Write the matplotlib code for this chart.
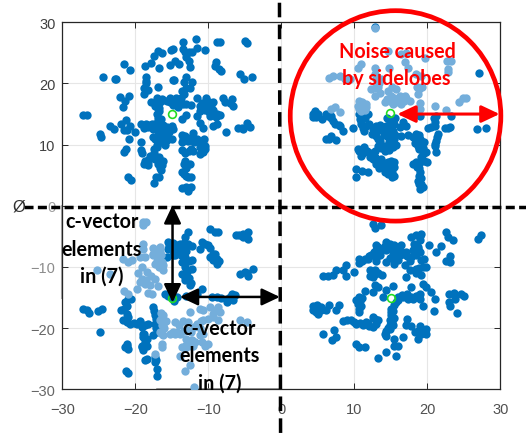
import matplotlib
matplotlib.use("Agg")
import matplotlib.pyplot as plt
from matplotlib.patches import Ellipse

# Dark series (x, y) per quadrant
tl_x = [-11.7,-13.5,-11.55,-10.45,-8.85,-8.4,-5,-4.65,-16.95,-16.4,-17.5,-15.1,-14.8,-13.4,-13.2,-12.7,-12.3,-13,-12.7,-12.5,-14.5,-14,-15.2,-16.7,-17.9,-18.7,-21.55,-20.7,-24.4,-22.8,-22.6,-8.9,-9.1,-8.6,-8.3,-5.65,-5.15,-4,-18.6,-18.6,-18.6,-14.9,-14.7,-13,-12.3,-13.3,-16.85,-18.85,-18.3,-18.8,-12.5,-13.05,-13.6,-13.3,-22.05,-20.8,-21.4,-21.7,-17.85,-17.3,-17.05,-16.6,-16.15,-15.7,-15.25,-14.8,-14.45,-13.9,-13.45,-13,-12.4,-14.65,-17,-17.05,-16.85,-13.65,-13.05,-11.5,-10.3,-11.15,-10.7,-11.15,-9.3,-10.2,-9.8,-8.85,-8.4,-11.6,-11.2,-10.7,-9.3,-8.8,-7.6,-7.95,-6.8,-7.7,-6.6,-7,-5.9,-5.2,-4.75,-4.3,-5.45,-27.1,-26.65,-23.4,-22.9,-22,-21.3,-21.55,-20.75,-21.2,-20,-24.85,-24.75,-19.25,-18.6,-18.8,-18,-17.3,-16.6,-16.15,-17.05,-16.15,-15,-14.9,-16.6,-17.3,-16.15,-15,-15.7,-16.6,-17.05,-17.5,-17.95,-17.3,-19.2,-19.25,-19.1,-20.8,-21.3,-21.55,-18.7,-18.2,-18.8,-16.85,-16.15,-16.6,-16.5,-17.15,-16.7,-17.45,-21,-20.65,-13.65,-13.2,-12.15,-13.65,-12.75,-11.6,-10.6,-10.45,-11.15,-10.7,-13.65,-13.2,-12.05,-11.15,-13.2,-13.05,-12.5,-13.65,-13,-12.4,-13.65,-12.75,-12.4,
        -18.2,-17.6,-17.7,-17,-16.4,-15.7,-15.4,-16.9,-17.6,-16.3,-15.6,-15.9,-16.9,-17,-17.4,-17.7,-18.3,-18.2,-16.9,-16.4,-16.8,-17.3,-16.7,-16.4,-15.3,-14.9,-14.2,-13.7,-14.2,-16.8,-16.9,-16.5,-13.4,-13.1,-12.5,-12.1,-11.9,-11.2,-10.7,-10.5,-10.9,-12.7,-12.4,-13,-13.3,-13.3,-12.8,-13,-10.9,-10.5,-9.9,-9.4,-8.9,-9.6,-9.9]
tl_y = [27.2,26.7,25.8,25.4,26.8,26.8,27,26.65,25.3,25,24.5,25.4,25.7,25.7,25.1,25.1,25.2,24.4,23.6,22.7,23.7,23.2,23,22.6,23.3,22.8,23.2,22.2,21,20.8,20.7,23.5,22.9,22.3,22.1,21.5,20.7,21.1,21.1,20.4,20,20.6,20.5,21,20.3,20.3,19.45,19.2,19,18.3,19.2,19.2,18.8,18.3,17.8,17.9,17.2,16.2,17.05,16.8,17.55,16.9,17.25,17.15,17.55,17.15,17.7,17.15,16.6,16.6,16.55,16.75,16.1,15,13.9,14.15,14.9,17.7,17.65,16.35,15.8,15.5,16.9,16.45,14.7,15,14.8,14.7,13.5,12.8,13.1,13.35,12.1,17.65,17.5,16.9,16.25,16.8,12.65,12.5,13.5,12.85,12.8,14.9,14.8,13.1,12.55,13.45,14,12.4,13.1,12.4,12,11.7,11.2,13.45,13.35,12.8,13.2,13.35,13.6,13.2,12.55,12.25,13.1,12.55,12,11,11,10.9,11.2,10.35,9.55,8.7,8.2,7.65,10.35,9.15,8.6,10.9,9.25,8.8,7.25,6.7,6.8,7.45,7.25,6.25,5.9,4.75,4.75,3.7,4.75,4.25,11.55,11.45,11.9,10.45,10.6,10.9,10.9,9.8,9.55,8.75,9.15,8.7,9,8.55,7.35,6.55,6.8,5.45,4.9,4.65,2.85,2.45,3,
        12.9,12.6,13.4,13,12.7,12.9,12,11.6,11.2,11.5,10.7,10,10.5,9.9,9.3,7.9,7.5,7.1,6.9,6.7,8,16.3,16,17.5,17,16.5,17.4,17.7,16.2,15.5,14.4,14.2,11,10.7,11.1,10.8,10.4,10.6,10.3,9.3,8.9,9,9.3,6.1,6.9,5.2,4.7,3,16.8,15.7,15.4,15.7,14.5,16.4,16.9]

tr_x = [27.1,26.8,28,4.55,4.35,4.8,4.35,5.6,6.15,6.85,7.1,8.1,8.45,7.9,9.8,6.15,6.85,7.45,10.7,11.2,11.85,10.95,11.2,13,13.5,12.55,14.85,15.5,14.6,15.3,17.1,16.65,13,13.5,14.6,15.5,14.85,15.3,14.15,13.25,10.7,11.2,10.5,12.3,12.55,13,13.7,14.6,15.5,14.15,15.05,14.6,15.5,15.2,10.3,11,10.3,11.85,16.45,17.35,18.5,18.95,19.6,18.7,19.85,19.4,18.05,18.95,19.95,18.95,18.7,19.15,18.95,19.4,21.2,21,20.1,21.45,21.2,21,21.15,22.4,23.05,23.3,18.95,12.9,
        10.8,11.4,10.9,11.6,12,11.3,12.4,13.1,13.6,13.3,14,14.2,14.3,15,15.2,14.5,15.6,14.9,15.6,15.2,14.7,14,14.7,15.7,13.6,12.8,11.8,11.3,10.9,12.2,13,13.3,14.1,15,14.9,15.2,14.2,12.9,18.1,18.8,19.2,18.3,18.9,19.4,19.2,19.5,18.9,18.6,18.8,18.8,19.1,18.5,21.1,20.9,20.5,21.3,21.1,22.8,5,4.9,6.4,6.8,7.3,6.5,13.4,14,15.4,16.3]
tr_y = [21.7,12.55,12.8,15.5,15,14.45,14.45,14.2,15,14.7,13.9,13.1,12.25,13.2,12.65,11,11.35,10.8,15,14.7,15,13.9,12.8,13.1,13.2,12.55,13.65,13.35,12.55,12.25,13.1,13.65,11.45,10.6,11.2,10.9,9.8,9.55,9,9.8,9,8.7,9.25,8.7,7.65,6.8,7.65,7.1,7.1,6.25,6,5.2,4.9,4.65,6,5.7,4.65,5.45,11.35,11.55,11.7,10.9,10.35,9.8,8.85,8.45,6.8,7.1,7.1,5.45,4.1,3.55,2.75,3,14.7,13.65,12.8,11.7,10.6,9.8,8.85,12.8,12.9,14.7,14.7,29.2,
        14.2,14.3,13.3,13,13.3,12.2,11.7,12.2,12.6,11,11.5,12.2,13,13,14.1,14.3,14.4,11.7,11.6,10.4,10.5,9.8,9.2,9.9,9.4,8.9,9,9.6,8.2,8,7.3,7.1,7,7.3,6.5,5.6,5.6,7.9,11.2,11.5,10.6,10.3,9.3,9.4,8,7.3,6.2,6.4,4.9,3.5,4.5,7.1,13.1,14.3,12.9,11.2,10.1,12.8,15,14.8,14.6,14.3,13.3,10.9,6.2,6.7,6.4,12.9]

bl_x = [-12.75,-9.8,-9.1,-8.65,-6.2,-5.2,-4.5,-4.5,-5.2,-13.2,-10.9,-11.15,-10,-9.3,-9.8,-8.85,-8.85,-3.85,-5,-5.65,-4.5,-15.5,-15.5,-15.7,-14.35,-13.4,-12.75,-14.55,-12.3,-13.65,-12.3,-13.65,-13.2,-12.5,-10.9,-15.9,-15,-14.35,-11.6,-8.85,-7.5,-6.8,-6.35,-7.5,-27.1,-26.55,-26.3,-25.05,-24.6,-24.85,-21,-21.2,-21.9,-21.2,-21.65,-20.75,-19.7,-19.15,-18.2,-17.55,-17.3,-17.3,-17.05,-17.55,-19,-18.45,-19.15,-18.45,-19,-21.2,-21,-21.4,-18.7,-18.35,-17.3,-17.3,-17.05,-17.05,-21.3,-20.95,
        -15.4,-14.9,-14.9,-14.2,-13.9,-13.3,-13,-12.3,-14.9,-13.8,-13.2,-12.7,-13.2,-12.9,-13.2,-12.6,-12.4,-15.5,-15.3,-14.7,-13,-9.5,-8.2,-7,-6.6,-9.3,-9.1,-8.6,-9.7,-10.5,-4.9,-5.8,-4.7,-21.4,-20.6,-21.5,-21,-21.2,-20.2,-19.3,-18.7,-17.4,-17.2,-17.1,-16.9,-18.9,-18.7,-19.1,-21.2,-18.8,-17.1]
bl_y = [-4.25,-3.85,-4.25,-4.25,-4.7,-4.55,-4.25,-5.35,-5.1,-5.1,-5.9,-7,-6.45,-7.8,-8.35,-8.65,-9.45,-10.4,-10.8,-11.1,-11.4,-5.9,-7,-8.35,-6.45,-7,-6.2,-8.1,-8.9,-9.2,-10.3,-11.1,-12.15,-13,-13.55,-14.35,-14.9,-14.9,-14.35,-14.9,-15.2,-14.35,-14.65,-15.75,-16.85,-17.1,-17.5,-17.25,-16.95,-20.65,-15.2,-16.3,-17.1,-17.65,-18.75,-19.3,-19.3,-19.85,-19.3,-16.55,-17.9,-19.3,-20.65,-21.2,-21.5,-21.75,-22.85,-22.85,-23.65,-22.55,-23.4,-23.1,-25.15,-25.05,-24.75,-25.55,-26.65,-27.75,-26.95,-27.3,
        -6.5,-6.1,-7,-7.4,-6.3,-6,-7.4,-6.6,-8,-8,-8.4,-9.1,-10,-10.9,-11.7,-11.8,-12.6,-14.8,-14.2,-15.5,-14.7,-14.9,-15,-14.9,-15.4,-8.9,-7.9,-9,-6.9,-6.3,-4.9,-4.8,-11,-15.8,-15.2,-16.8,-18.2,-19,-19.1,-18.9,-19.5,-17.2,-18.5,-20,-19.9,-21,-22.3,-23.1,-23,-20.9,-25.2]

br_x = [12.55,13.7,12.8,22.5,22.85,23.5,26.95,27.4,21.9,23.15,22.5,23.15,17.8,18.5,19.2,18.95,18.7,20.3,21.25,13,13,14.4,15.5,16.45,12.3,13.5,14.4,15.3,16.2,17.1,17.8,18.95,19.6,19.15,10.7,10.7,11.4,14.4,15.5,16.9,19.85,18.5,17.6,17.1,19.15,8.9,8.45,8.9,9.9,7.55,7.1,6.4,5.7,12.1,12.8,12.55,13.85,12.8,13.25,19.4,19.85,20.55,21,18.95,17.8,15.3,14.4,13.9,11.4,10.7,10.3,10.95,10.7,12.55,16,16.65,17.35,18,18.95,19.4,15.75,15.05,23,23.6,23,23.75,23.05,24.65,25,24,20.9,4.35,4.55,5,5.45,6.15,6.6,7.45,7.9,4.35,8.45,9.6,10.3,11.2,11.65,12.55,13.25,12.55,15.05,14.85,15.5,14.85,15.3,17.2,17.1,17.8,5.7,7.2,7.45,7,14.15,14.4,15.5,16.65,18.25,18.95,19.85,18.7,19.85,19.4,10.3,10.7,11.4,15.5,16,14.3,13.25,15.75,
        13.2,13.6,14.2,14.9,15,15.8,16.3,16.7,17.2,17.6,18.4,18.7,18.2,19,18,13,12.7,14.9,15.4,16,13,11.9,12,11,12.4,12.9,13.3,12.2,18.9,19.4,18.4,16.5,17.2,17.7,18.5,18.8,16,15.5,15.3,15,15.1,14.9,11,10.8,10.5,10.6,9,10,10.8,11.9,12,12.9,13,14.4,14.6,18.7,19.2,19.7,4.8,4.9,5.5,5]
br_y = [-2.9,-3.15,-3.6,-4.35,-5.1,-5.65,-5.35,-4.8,-6.6,-8.2,-9.05,-9.2,-5.1,-4.8,-4.55,-5.65,-6.7,-6.45,-7.55,-6.35,-7.25,-5.9,-6.45,-6.45,-8.1,-8.1,-7.25,-7.8,-8.1,-7.55,-8.35,-7.55,-8.65,-8.9,-8.65,-9.3,-8.65,-9.2,-9.45,-9.75,-10,-10.3,-10.55,-11.65,-11.35,-9.75,-10.55,-11.5,-10.9,-10.55,-11.25,-11.5,-11.5,-10.55,-10.55,-11.65,-11.25,-13,-13.3,-12.75,-13.3,-14.1,-15.2,-14.35,-13.3,-13.1,-13.8,-14.9,-14,-14.9,-15.45,-16.3,-17.4,-14.1,-14.9,-14.9,-15.2,-15.2,-15.2,-16.3,-15.75,-16.85,-14.35,-14.2,-15.75,-15.3,-16.4,-14.35,-14.8,-17.5,-17.2,-16.3,-16.85,-17.65,-16.55,-17.1,-16.2,-17.1,-16.2,-17.1,-18.85,-18.75,-19.3,-19.55,-19,-18.2,-18.75,-19.85,-17.4,-18.75,-18.35,-19.55,-19.55,-18.45,-19.45,-19.65,-20.95,-20.3,-21.5,-21.9,-20.95,-21.3,-21.75,-21.5,-20.65,-19.65,-20.1,-21.75,-20.95,-20.4,-22.55,-23.1,-23.1,-22.85,-22.95,-23.95,-24.9,-24.5,
        -6.8,-7,-6.5,-6.2,-7,-7,-7.3,-7.8,-8.2,-9,-8,-7,-6.2,-5,-7.2,-8.6,-7.6,-8.6,-8.7,-8.8,-9,-8.7,-8.2,-9,-11,-11.2,-11,-11.5,-10.2,-10,-11,-14.6,-14.5,-14.9,-14.7,-14.6,-15.4,-16.2,-17.2,-17.8,-19,-20.2,-15,-15.5,-16,-16.8,-18.7,-19,-19.2,-19.1,-19.7,-18.5,-19.4,-20.4,-20,-20.4,-20.9,-20.6,-17.3,-16.2,-17,-16.7]

# Light series (sidelobe noise)
ltr_x = [12.9,14.6,16.45,17.1,19.65,22.75,23.3,22.9,22.9,16.9,17.35,14.75,12.9,12.9,10.95,10.5,6.6,7.15,8,8.7,9.45,13,13.7,12.35,13.25,12.8,13.5,14.6,15.65,15.1,18.5,19.2,18.6,19.3,18.7,14.5,15.5,16.2,17.1,17.6,16.45,15.3,14.85,10.7,11.2,10.5,11.65,10.95,18.95,19,21,22.5,24.4,24.9,25.3,7.3,6.85,8.1,
         11,11.6,10.7,11.4,15,15.7,16.8,16.3,16.9,14.2,12.9,13.4,18.9]
ltr_y = [29.05,25.35,24.8,25.05,24.1,23.7,23.6,22.35,21.8,23.45,22.6,22.6,22.6,21.5,23.15,22.5,20.9,21.15,21.25,20.7,20.7,20.7,20.7,19.05,19.35,18,18.5,18.8,19.05,19.35,21.5,21.25,19.35,19.35,18.25,17.45,17.7,18,17.7,17.15,16.6,16.6,17.15,17.15,16.6,16.35,16.1,15.5,16.8,15.8,16.35,15.65,16.9,17.7,17.7,16.2,15.8,15.35,
         16.9,16.6,15.9,15.7,17.9,17,17.2,17,18,17,19.2,20,19.1]

lbl_x = [-18.9,-18.6,-18.9,-25.2,-23.45,-18.9,-18.9,-21.65,-21,-20.5,-19.35,-18.7,-17.6,-16.6,-17.55,-16.85,-17.3,-16.15,-16.15,-16.6,-19.15,-18.45,-19.15,-18.7,-19.8,-17.3,-16.85,-18,-21.55,-21,-17.75,-16.15,-16.6,-16.15,-16.6,-16.15,-16.15,-16.4,-17.3,-16.4,-15.25,-14.35,-14.55,-12.75,-12.5,-11.15,-9.8,-8.65,-9.3,-8.4,-11.6,-10.7,-10,-8.65,-10.7,-13.9,-13,-11.8,-10.9,-10.7,-10,-10.45,-5.65,-4.75,-13.65,-12.05,-13.9,-12.5,-13.2,-11.9,
         -17.2,-17,-16.5,-16.4,-16.7,-17.6,-19.6,-19.3,-18.5,-17.9,-18.3,-16.3,-16.4,-16.1,-16.4,-15.8,-16.5,-14.9,-14.5,-14,-13.4,-13.3,-12.9,-12.4,-12,-11,-11.1,-9.4,-9,-12.3,-13.1,-13.2,-12.6,-11.2]
lbl_y = [-2.6,-2.6,-3.15,-10.55,-11.1,-6.2,-7,-8.75,-9.2,-8.9,-8.35,-8.35,-6.9,-6.7,-8.1,-8.65,-9.45,-9.75,-10.55,-7.55,-10,-10.8,-11.9,-12.75,-13.55,-11.9,-13.1,-13,-14,-14.35,-14.35,-17.9,-18.75,-19.55,-20.65,-21.2,-19,-22.55,-24.2,-23.1,-20.95,-20.65,-19,-19,-17.4,-16.85,-16.55,-16.55,-17.65,-17.4,-19.3,-18.75,-18.45,-18.75,-17.1,-20.9,-21.75,-22.3,-22.3,-20.9,-22.55,-22.85,-18.75,-19,-23.1,-22.85,-24.5,-26.1,-26.95,-29.55,
         -7.4,-9,-8.1,-9.2,-10,-7.8,-11,-12.5,-12.1,-11.4,-14.2,-18.2,-19.5,-20,-21,-18.8,-17.6,-20.6,-21,-19.5,-18.8,-20.4,-20.3,-20.7,-19.8,-18.9,-20,-18.2,-17,-21.9,-22.7,-23.2,-23,-21.2]

centre_x = [14.85, -15, -15, 15]
centre_y = [15.1, 15, -15, -15]
ticks = [-30, -20, -10, 0, 10, 20, 30]
ytick_colors = ["#666666", "#666666", "#8c8c8c", "#a0a0a0", "#404040", "#404040", "#404040"]

DARK = "#0072BD"
LIGHT = "#74AEDB"
EDGE = "#262626"

fig = plt.figure(figsize=(5.26, 4.35), dpi=100)
ax = fig.add_axes([62.3/526, (435-390.3)/435, 438/526, 367/435])
ax.set_xlim(-30, 30)
ax.set_ylim(-30, 30)
ax.set_xticks(ticks)
ax.set_yticks(ticks)
ax.grid(True, color="#e6e6e6", lw=0.8)
ax.set_axisbelow(True)
ax.tick_params(direction="in", top=True, right=True, length=4, width=0.7,
               color=EDGE, labelcolor="#505050", labelsize=10.5)
ax.tick_params(axis="x", pad=9)
ax.tick_params(axis="y", pad=5)
for lab in ax.get_xticklabels() + ax.get_yticklabels():
    lab.set_family("Liberation Sans")
for lab, c in zip(ax.get_yticklabels(), ytick_colors):
    lab.set_color(c)
for s in ax.spines.values():
    s.set_linewidth(0.9)
    s.set_color(EDGE)

S = 36
for xs, ys in [(tl_x, tl_y), (tr_x, tr_y), (bl_x, bl_y), (br_x, br_y)]:
    ax.scatter(xs, ys, s=S, color=DARK, lw=0, zorder=3, clip_on=False)
ax.scatter(ltr_x, ltr_y, s=S, color=LIGHT, lw=0, zorder=4)
ax.scatter(lbl_x, lbl_y, s=S, color=LIGHT, lw=0, zorder=4)
ax.plot(centre_x, centre_y, "o", ms=5.6, mfc="none", mec="#22DD22", mew=1.2, zorder=5, ls="none")

# Pale patches on the frame left by the pasted-on labels
ax.plot([-30, -30], [0, -15], color="#b0b0b0", lw=1.5, clip_on=False, zorder=2.5)
ax.plot([-17, 0], [-30, -30], color="#808080", lw=1.1, clip_on=False, zorder=2.5)

# Pasted-on annotations
ax.plot([-35.3, 33.6], [-0.2, -0.2], color="black", lw=2.5, ls=(0, (2.6, 1.25)), clip_on=False, zorder=6)
ax.plot([-0.25, -0.1], [33.2, -37.2], color="black", lw=2.5, ls=(0, (4.2, 2.1)), clip_on=False, zorder=6)
ax.text(-35.9, -0.1, "\u00d8", fontsize=12, family="Liberation Sans", color="#303030",
        ha="center", va="center", zorder=7, clip_on=False)

ax.add_patch(Ellipse((15.65, 14.7), 28.85, 34.4, fill=False, ec="#FE0000", lw=3.4,
                     zorder=8, clip_on=False))

def arrow(p0, p1, color, lw, scale):
    ax.annotate("", xy=p1, xytext=p0, zorder=9, annotation_clip=False,
                arrowprops=dict(arrowstyle="<|-|>,head_length=0.55,head_width=0.26", color=color,
                                lw=lw, mutation_scale=scale, shrinkA=0, shrinkB=0))

arrow((15.9, 15), (29.9, 15), "#FE0000", 2.2, 20)
arrow((-14.9, 0.1), (-14.9, -15.8), "black", 1.8, 20)
arrow((-13.9, -14.9), (-0.2, -14.9), "black", 1.8, 20)

red = dict(color="#FE0000", family="Lato", fontweight="bold", fontsize=14.2,
           ha="center", va="center", zorder=10, clip_on=False)
ax.text(15.85, 25.3, "Noise caused", **red)
ax.text(15.8, 20.9, "by sidelobes", **red)

blk = dict(color="black", family="Lato", fontweight="bold", fontsize=14.2,
           ha="center", va="center", zorder=10, clip_on=False, linespacing=1.45)
ax.text(-24.6, -7.0, "c-vector\nelements\nin (7)", **blk)
ax.text(-8.5, -24.4, "c-vector\nelements\nin (7)", **blk)

fig.savefig("out.png", dpi=100)
